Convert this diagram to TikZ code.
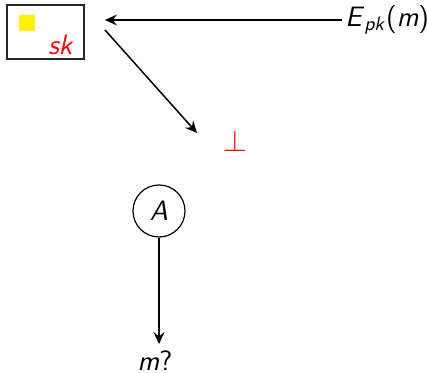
\documentclass[tikz,border=0pt]{standalone}
\usetikzlibrary{arrows.meta,positioning}
\newcommand{\sv}[1]{\textsf{\textit{#1}}}
\tikzset{
  every node/.style={font=\fontsize{14}{17}\selectfont},
  keybox/.style={draw=black!85, line width=1.4pt, minimum width=38.5pt, minimum height=27pt, inner sep=0pt},
  agent/.style={circle, draw, line width=0.6pt, minimum size=26pt, inner sep=0pt},
  arrow/.style={-{Stealth[length=6pt, width=5.5pt, inset=2.2pt]}, line width=0.75pt}
}
\begin{document}
\begin{tikzpicture}[x=0.5pt, y=-0.5pt]
  \useasboundingbox (0,0) rectangle (427,373);

  % --- key box ---
  \node[keybox] (box) at (45.5,32) {};
  \fill[yellow] (19,15) rectangle (35,31);
  \node[text=red] (sk) at (61,45) {\sv{sk}};

  % --- ciphertext ---
  \node[anchor=west, inner sep=1.5pt] (epk) at (342,20) {\textsf{\textit{E}\textsubscript{\textit{pk}}(\textit{m})}};
  \coordinate (skin) at (105,20);
  \draw[arrow] (epk.west) -- (skin);

  % --- decryption fails ---
  \node[text=red, scale=1.05] (bot) at (235,141) {$\perp$};
  \coordinate (skout) at (105,30);
  \coordinate (botin) at (197,133);
  \draw[arrow] (skout) -- (botin);

  % --- adversary ---
  \node[agent] (A) at (159,211) {\sv{A}};
  \node (mq) at (155,361) {\sv{m}\textsf{?}};
  \draw[arrow] (A.south) -- (A.south |- mq.north);
\end{tikzpicture}
\end{document}
